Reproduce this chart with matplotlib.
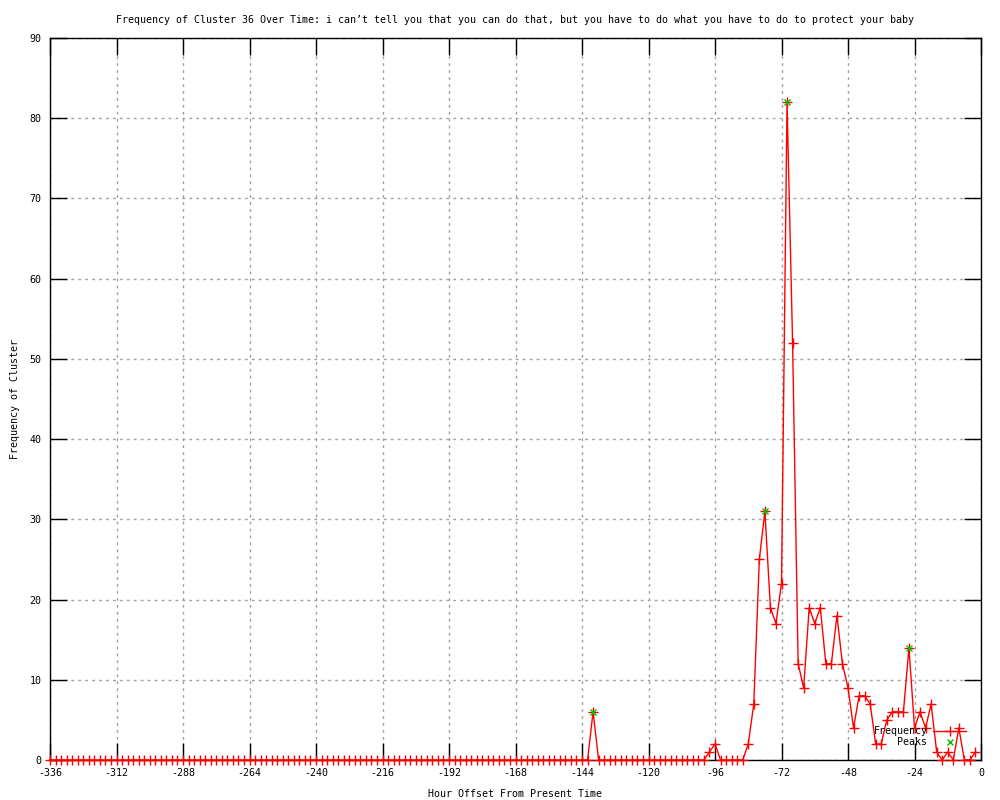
import numpy as np
import matplotlib
matplotlib.use("Agg")
import matplotlib.pyplot as plt

# hours from -336 to -2, every 2 h
hours = np.arange(-336, 0, 2)

# non-zero counts (hour: frequency)
nonzero = {
    -140: 6,
    -98: 1, -96: 2,
    -84: 2, -82: 7, -80: 25, -78: 31, -76: 19, -74: 17, -72: 22,
    -70: 82, -68: 52, -66: 12, -64: 9, -62: 19, -60: 17, -58: 19,
    -56: 12, -54: 12, -52: 18, -50: 12, -48: 9, -46: 4, -44: 8,
    -42: 8, -40: 7, -38: 2, -36: 2, -34: 5, -32: 6, -30: 6, -28: 6,
    -26: 14, -24: 4, -22: 6, -20: 4, -18: 7, -16: 1, -14: 0,
    -12: 1, -10: 0, -8: 4, -6: 0, -4: 0, -2: 1,
}
freq = [nonzero.get(h, 0) for h in hours]

peak_hours = [-140, -78, -70, -26]
peak_vals = [6, 31, 82, 14]

title = ("Frequency of Cluster 36 Over Time: i can\u2019t tell you that you can do that, "
         "but you have to do what you have to do to protect your baby")

plt.rcParams['font.family'] = ['DejaVu Sans Mono']
plt.rcParams['font.size'] = 7.2

fig = plt.figure(figsize=(10, 8), dpi=100)
ax = fig.add_axes([0.05, 0.05, 0.931, 0.9025])

ax.plot(hours, freq, color='red', linewidth=1, marker='+', markersize=7,
        markeredgewidth=1, label='Frequency', clip_on=False, zorder=3)
ax.plot(peak_hours, peak_vals, linestyle='none', marker='x', color='#00c000',
        markersize=5, markeredgewidth=1, label='    Peaks', zorder=4)

ax.set_xlim(-336, 0)
ax.set_ylim(0, 90)
ax.set_xticks(np.arange(-336, 1, 24))
ax.set_yticks(np.arange(0, 91, 10))
ax.set_xticklabels([str(v) for v in range(-336, 1, 24)])
ax.set_yticklabels([str(v) for v in range(0, 91, 10)])
ax.tick_params(direction='in', length=12, width=1, top=True, right=True,
               labelsize=7.2, pad=6)
ax.grid(True, color='#a0a0a0', linestyle=(0, (2, 3)), linewidth=1)
ax.set_axisbelow(True)
for s in ax.spines.values():
    s.set_linewidth(1)

ax.set_title(title, fontsize=7.2, pad=11)
ax.set_xlabel('Hour Offset From Present Time', fontsize=7.2, labelpad=8)
ax.set_ylabel('Frequency of Cluster', fontsize=7.2, labelpad=7)

ax.legend(loc='lower right', bbox_to_anchor=(0.994, 0.005), frameon=False,
          markerfirst=False, handlelength=3.3, handletextpad=0.6,
          labelspacing=0.1, fontsize=7.2)

fig.savefig('out.png', dpi=100)
